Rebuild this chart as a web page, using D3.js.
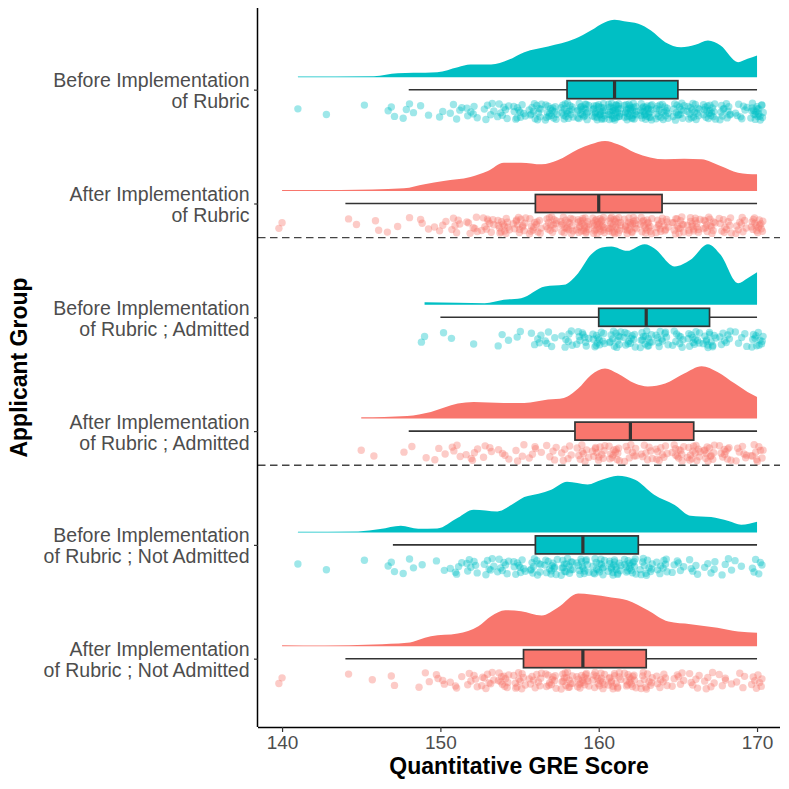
<!DOCTYPE html>
<html>
<head>
<meta charset="utf-8">
<script src="https://cdn.jsdelivr.net/npm/d3@7"></script>
<style>
  html, body { margin: 0; padding: 0; background: #ffffff; }
  svg { display: block; font-family: "Liberation Sans", Arial, Helvetica, sans-serif; }
</style>
</head>
<body>
<svg id="chart" width="789" height="789"></svg>
<script>
// ---------------- DATA ----------------
const groups = [
  "Before Implementation\nof Rubric",
  "After Implementation\nof Rubric",
  "Before Implementation\nof Rubric ; Admitted",
  "After Implementation\nof Rubric ; Admitted",
  "Before Implementation\nof Rubric ; Not Admitted",
  "After Implementation\nof Rubric ; Not Admitted"
];
const periods = ["Before", "After", "Before", "After", "Before", "After"];
const xTicks = [140, 150, 160, 170];
const xTitle = "Quantitative GRE Score";
const yTitle = "Applicant Group";

// integer scores 140..170
const scores = d3.range(140, 171);
// number of applicants at each score (140..170), per group
const countsBeforeAll   = [0,1,0,1,0,1,0,3,4,2,2,5,6,6,8,11,14,16,18,20,25,28,27,24,18,15,16,18,12,8,20];
const countsAfterAll    = [2,0,0,0,1,1,2,2,1,3,4,6,7,10,14,14,13,14,18,21,24,23,20,17,15,15,16,14,11,9,16];
const countsBeforeAdm   = [0,0,0,0,0,0,0,0,0,2,1,1,1,0,3,2,5,5,7,10,13,13,12,14,11,9,12,13,8,5,12];
const countsAfterAdm    = [0,0,0,0,0,1,1,0,2,1,3,4,5,4,4,4,5,5,6,9,12,12,9,8,9,11,13,12,10,7,10];
const countsBeforeNotAdm= [0,1,0,1,0,1,0,3,3,1,2,5,7,7,8,10,11,13,15,14,15,17,16,12,9,6,5,5,4,2,6];
const countsAfterNotAdm = [2,0,0,0,1,0,1,2,0,3,4,4,6,9,11,11,10,11,15,16,15,15,14,12,8,7,6,6,5,4,8];
const counts = [countsBeforeAll, countsAfterAll, countsBeforeAdm, countsAfterAdm, countsBeforeNotAdm, countsAfterNotAdm];

// box-plot statistics: [lower whisker, Q1, median, Q3, upper whisker]
const boxStats = [
  [148, 158, 161, 165, 170],
  [144, 156, 160, 164, 170],
  [150, 160, 163, 167, 170],
  [148, 158.5, 162, 166, 170],
  [147, 156, 159, 162.5, 170],
  [144, 155.25, 159, 163, 170]
];

// kernel density (relative units), [score, density]
const densBeforeAll = [[141,2],[145.8,3],[147.3,12],[148.3,13],[149.8,15],[151.1,30],[151.9,38],[153.2,38],[154.3,52],[155.3,75],[156.8,92],[158.5,115],[159.5,140],[160.4,165],[161.0,172],[161.6,168],[162.5,160],[163.3,140],[164.2,105],[165.2,90],[166.1,97],[166.9,110],[167.7,95],[168.8,45],[169.4,55],[170,65]];
const densAfterAll = [[140,3],[143.7,3],[147.7,8],[149.0,20],[150.2,30],[151.9,42],[153.0,60],[154.0,85],[155.1,85],[156.4,80],[157.4,92],[158.7,125],[159.5,140],[160.4,150],[161.2,140],[162.3,115],[164.2,95],[165.4,97],[166.5,95],[167.7,75],[168.8,55],[170,50]];
const densBeforeAdm = [[149,8],[151.1,6],[152.8,5],[154.0,15],[155.1,20],[156.6,55],[157.8,60],[158.7,95],[159.5,150],[160.2,172],[160.8,175],[161.8,162],[162.9,182],[163.5,170],[164.8,115],[165.8,135],[166.9,182],[167.7,150],[168.8,65],[169.4,80],[170,98]];
const densAfterAdm = [[145,4],[147.9,8],[149.4,20],[151.1,45],[152.1,50],[154.0,47],[155.3,47],[156.8,57],[157.8,62],[158.7,90],[159.5,130],[160.4,150],[161.2,135],[162.3,105],[163.1,96],[164.2,105],[165.4,135],[166.5,157],[167.5,140],[168.6,105],[169.4,80],[170,65]];
const densBeforeNotAdm = [[141,2],[144.8,3],[146.2,10],[147.5,20],[148.6,11],[149.8,12],[151.1,44],[152.1,68],[153.6,63],[154.5,83],[155.3,106],[156.2,116],[157.0,128],[158.0,152],[159.3,144],[160.2,158],[161.2,170],[162.3,158],[163.5,113],[164.8,82],[165.8,50],[167.1,46],[168.2,34],[169.0,23],[170,32]];
const densAfterNotAdm = [[140,3],[142.7,2],[145.8,5],[147.9,10],[149.4,30],[151.1,38],[152.4,60],[153.2,90],[154.1,108],[155.1,105],[156.4,92],[157.4,115],[158.7,158],[159.5,155],[160.8,146],[161.8,138],[163.1,108],[164.4,74],[165.8,66],[167.5,55],[168.8,44],[170,40]];
const densities = [densBeforeAll, densAfterAll, densBeforeAdm, densAfterAdm, densBeforeNotAdm, densAfterNotAdm];

// separators drawn after these groups
const separatorsAfter = [groups[1], groups[3]];

// ---------------- STYLE / LAYOUT ----------------
const colors = { Before: "#00BFC4", After: "#F8766D" };
const panel = { left: 258, right: 780, top: 8, bottom: 727 };
const svg = d3.select("#chart");

const x = d3.scaleLinear().domain([138.48, 171.45]).range([panel.left, panel.right]);
const y = d3.scalePoint().domain(groups).range([89.7, 658.7]);
const step = y.step();
const dens = d3.scaleLinear().domain([0, 180]).range([0, 60]);

const densOffset = 12.5, boxHalf = 9, ptTop = 13.5, ptBot = 30.5, jitterW = 0.4;

function halton(i, b) { let f = 1, r = 0; while (i > 0) { f /= b; r += f * (i % b); i = Math.floor(i / b); } return r; }

// densities
const area = d3.area()
  .x(d => x(d[0]))
  .curve(d3.curveMonotoneX);

groups.forEach((g, gi) => {
  const base = y(g) - densOffset;
  svg.append("path")
    .datum(densities[gi])
    .attr("d", area.y0(base).y1(d => base - dens(d[1])))
    .attr("fill", colors[periods[gi]])
    .attr("stroke", "none");
});

// boxes
groups.forEach((g, gi) => {
  const [lo, q1, med, q3, hi] = boxStats[gi];
  const cy = y(g);
  const gBox = svg.append("g");
  gBox.append("line").attr("x1", x(lo)).attr("x2", x(hi)).attr("y1", cy).attr("y2", cy)
    .attr("stroke", "#333333").attr("stroke-width", 1.6);
  gBox.append("rect").attr("x", x(q1)).attr("width", x(q3) - x(q1))
    .attr("y", cy - boxHalf).attr("height", 2 * boxHalf)
    .attr("fill", colors[periods[gi]]).attr("stroke", "#333333").attr("stroke-width", 1.7);
  gBox.append("line").attr("x1", x(med)).attr("x2", x(med)).attr("y1", cy - boxHalf).attr("y2", cy + boxHalf)
    .attr("stroke", "#333333").attr("stroke-width", 3.2);
});

// jittered points
groups.forEach((g, gi) => {
  const pts = [];
  let k = 1;
  scores.forEach((s, si) => {
    for (let c = 0; c < counts[gi][si]; c++) {
      pts.push({ s, jx: (halton(k, 2) * 2 - 1) * jitterW, jy: halton(k, 3) });
      k++;
    }
  });
  const cy = y(g);
  svg.append("g").selectAll("circle").data(pts).join("circle")
    .attr("cx", d => x(d.s + d.jx))
    .attr("cy", d => cy + ptTop + d.jy * (ptBot - ptTop))
    .attr("r", 3.7)
    .attr("fill", colors[periods[gi]])
    .attr("fill-opacity", 0.38);
});

// separators
separatorsAfter.forEach(g => {
  const yy = y(g) + 0.3 * step;
  svg.append("line").attr("x1", panel.left).attr("x2", panel.right)
    .attr("y1", yy).attr("y2", yy)
    .attr("stroke", "#444444").attr("stroke-width", 1.4).attr("stroke-dasharray", "7.5,4.5");
});

// x axis
const xAxis = svg.append("g").attr("transform", `translate(0,${panel.bottom})`)
  .call(d3.axisBottom(x).tickValues(xTicks).tickSize(5).tickPadding(4).tickSizeOuter(0));
xAxis.select(".domain").attr("stroke", "#000").attr("stroke-width", 1.5)
  .attr("d", `M${panel.left},0.5H${panel.right}`);
xAxis.selectAll(".tick line").attr("stroke", "#333333").attr("stroke-width", 1.2);
xAxis.selectAll(".tick text").attr("fill", "#4D4D4D").style("font-size", "19px")
  .style("font-family", "'Liberation Sans', Arial, sans-serif");

// y axis
const yAxis = svg.append("g").attr("transform", `translate(${panel.left},0)`)
  .call(d3.axisLeft(y).tickSize(4).tickFormat(""));
yAxis.select(".domain").attr("stroke", "#000").attr("stroke-width", 1.5)
  .attr("d", `M-0.5,${panel.top}V${panel.bottom}`);
yAxis.selectAll(".tick line").attr("stroke", "#333333").attr("stroke-width", 1.2);

groups.forEach(g => {
  const lines = g.split("\n");
  const t = svg.append("text").attr("text-anchor", "end").attr("fill", "#4D4D4D")
    .style("font-size", "19.5px");
  lines.forEach((ln, li) => {
    t.append("tspan").attr("x", 249.5).attr("y", y(g) - 2.5 + li * 21).text(ln);
  });
});

// titles
svg.append("text").attr("x", (panel.left + panel.right) / 2).attr("y", 774)
  .attr("text-anchor", "middle").attr("fill", "#000").style("font-size", "23px").style("font-weight", "bold")
  .text(xTitle);
svg.append("text").attr("transform", `translate(27,${(panel.top + panel.bottom) / 2}) rotate(-90)`)
  .attr("text-anchor", "middle").attr("fill", "#000").style("font-size", "23px").style("font-weight", "bold")
  .text(yTitle);
</script>
</body>
</html>
